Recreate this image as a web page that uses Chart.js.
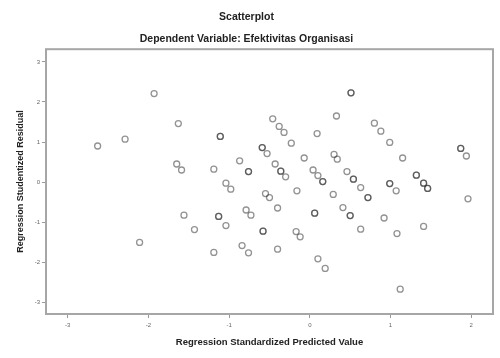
<!DOCTYPE html>
<html>
<head>
<meta charset="utf-8">
<script src="https://cdn.jsdelivr.net/npm/chart.js@4"></script>
<style>
html,body{margin:0;padding:0;background:#fff;}
#wrap{width:500px;height:358px;}
</style>
</head>
<body>
<div id="wrap"><canvas id="c" width="500" height="358"></canvas></div>
<script>
const titleText = 'Scatterplot';
const subtitleText = 'Dependent Variable: Efektivitas Organisasi';
const xTitle = 'Regression Standardized Predicted Value';
const yTitle = 'Regression Studentized Residual';
const xTicks = [-3, -2, -1, 0, 1, 2];
const yTicks = [-3, -2, -1, 0, 1, 2, 3];

// Standardized predicted values (x) and studentized residuals (y)
const predicted = [
  -2.63,-2.29,-1.93,-1.63,-1.65,-1.59,-1.56,-1.43,-2.11,-1.11,
  -0.46,-0.38,-0.32,-0.23,0.09,0.33,-0.59,-0.53,-0.87,-1.19,
  -0.76,-0.43,-0.36,-0.30,-0.07,0.30,0.34,0.04,0.10,0.16,
  -1.04,-0.98,-0.55,-0.50,-0.16,0.29,-1.13,-1.04,-0.79,-0.73,
  -0.40,0.06,-0.58,-0.17,-0.12,-0.84,-0.76,-1.19,-0.40,0.10,
  0.19,0.51,0.80,0.88,0.99,1.15,1.87,1.94,0.46,0.54,
  0.99,1.32,1.41,0.63,1.07,1.46,1.96,0.72,0.41,0.50,
  0.92,0.63,1.08,1.41,1.12,
  // overlapping cases (drawn twice, appear darker)
  -1.11,-0.59,-0.76,-0.36,0.16,-1.13,0.06,-0.58,0.51,1.87,
  0.54,0.99,1.32,1.41,1.46,0.72,0.50
];
const residual = [
  0.90,1.07,2.21,1.46,0.45,0.30,-0.83,-1.19,-1.51,1.14,
  1.58,1.39,1.24,0.97,1.21,1.65,0.86,0.71,0.53,0.32,
  0.26,0.45,0.27,0.13,0.60,0.69,0.57,0.30,0.16,0.01,
  -0.03,-0.18,-0.29,-0.39,-0.22,-0.31,-0.86,-1.09,-0.70,-0.83,
  -0.65,-0.78,-1.23,-1.24,-1.37,-1.59,-1.77,-1.76,-1.68,-1.92,
  -2.16,2.23,1.47,1.27,0.99,0.60,0.84,0.65,0.26,0.07,
  -0.04,0.17,-0.03,-0.14,-0.22,-0.16,-0.42,-0.39,-0.64,-0.84,
  -0.90,-1.18,-1.29,-1.11,-2.68,
  1.14,0.86,0.26,0.27,0.01,-0.86,-0.78,-1.23,2.23,0.84,
  0.07,-0.04,0.17,-0.03,-0.16,-0.39,-0.84
];

const points = predicted.map((x, i) => ({x: x, y: residual[i]}));

const frame = {
  id: 'frame',
  afterDraw(chart) {
    const a = chart.chartArea, ctx = chart.ctx;
    ctx.save();
    ctx.strokeStyle = '#a6a6a6';
    ctx.lineWidth = 2;
    ctx.strokeRect(a.left, a.top, a.right - a.left, a.bottom - a.top);
    ctx.restore();
  }
};

new Chart(document.getElementById('c'), {
  type: 'scatter',
  data: {
    datasets: [{
      data: points,
      pointRadius: 3,
      pointHoverRadius: 3,
      pointBorderWidth: 1.3,
      pointBackgroundColor: 'rgba(0,0,0,0)',
      pointBorderColor: 'rgba(40,40,40,0.5)'
    }]
  },
  plugins: [frame],
  options: {
    responsive: false,
    animation: false,
    events: [],
    layout: {padding: {left: 0, right: 7, top: 0, bottom: 0}},
    plugins: {
      legend: {display: false},
      tooltip: {enabled: false},
      title: {
        display: true, text: titleText, color: '#222',
        font: {family: 'Liberation Sans', size: 10.5, weight: 'bold'},
        padding: {top: 11, bottom: 9}
      },
      subtitle: {
        display: true, text: subtitleText, color: '#222',
        font: {family: 'Liberation Sans', size: 10.5, weight: 'bold'},
        padding: {top: 0, bottom: 4}
      }
    },
    scales: {
      x: {
        type: 'linear', min: -3.27, max: 2.27,
        afterBuildTicks: s => { s.ticks = xTicks.map(v => ({value: v})); },
        afterFit: s => { s.height = 44; },
        grid: {display: true, drawOnChartArea: false, drawTicks: true, tickLength: 4, color: '#999'},
        border: {display: false},
        ticks: {color: '#666', font: {family: 'Liberation Sans', size: 6}, padding: 4},
        title: {display: true, text: xTitle, color: '#222',
          font: {family: 'Liberation Sans', size: 9.5, weight: 'bold'},
          padding: {top: 0, bottom: 10}}
      },
      y: {
        type: 'linear', min: -3.3, max: 3.32,
        afterBuildTicks: s => { s.ticks = yTicks.map(v => ({value: v})); },
        afterFit: s => { s.width = 46; },
        grid: {display: true, drawOnChartArea: false, drawTicks: true, tickLength: 4, color: '#999'},
        border: {display: false},
        ticks: {color: '#666', font: {family: 'Liberation Sans', size: 6}, padding: 2},
        title: {display: true, text: yTitle, color: '#222',
          font: {family: 'Liberation Sans', size: 9, weight: 'bold'},
          padding: {top: 15, bottom: 0}}
      }
    }
  }
});
</script>
</body>
</html>
